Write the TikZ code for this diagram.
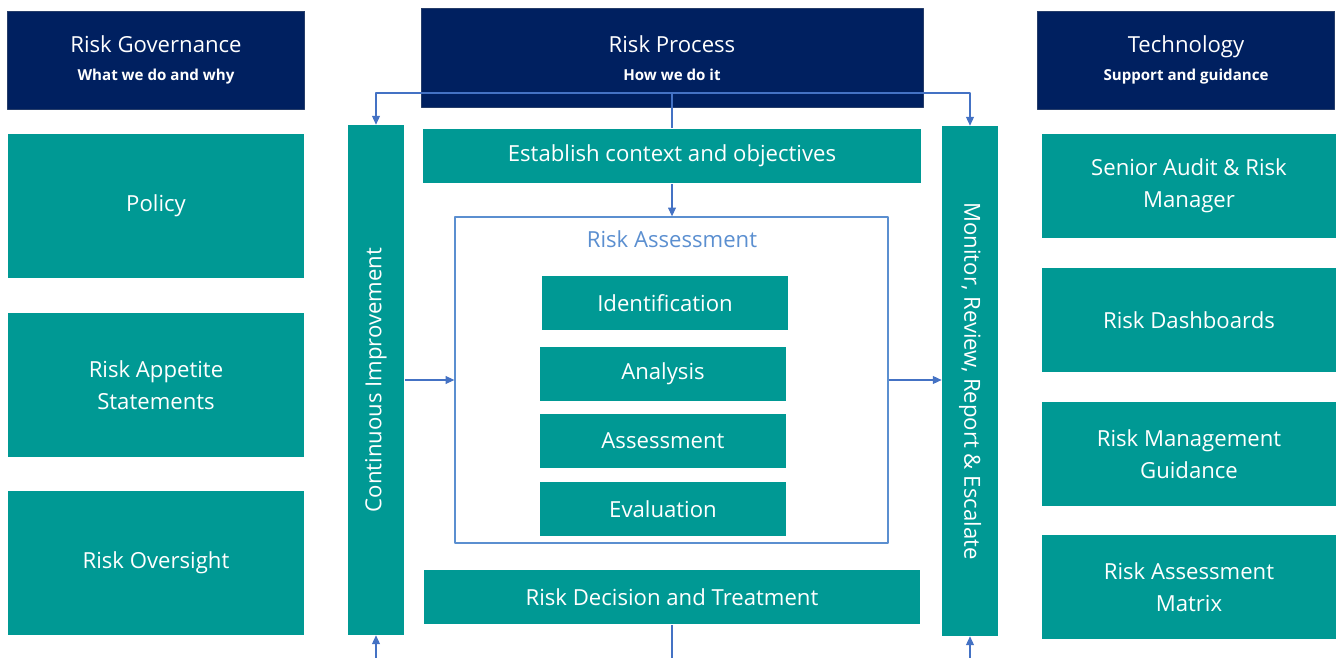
\documentclass[tikz,border=0pt]{standalone}
\usepackage{fontspec}
\setmainfont{Open Sans}
\usetikzlibrary{arrows.meta}
\definecolor{navy}{RGB}{0,32,96}
\definecolor{teal}{RGB}{0,153,148}
\definecolor{arrowblue}{RGB}{68,114,196}
\definecolor{framblue}{RGB}{91,143,208}
\newcommand{\subtxt}[1]{{\fontsize{8.6}{11}\selectfont\bfseries #1}}
\tikzset{
  head/.style={fill=navy, draw=navy!70!gray, text=white, align=center, inner sep=0pt,
    minimum width=5.95cm, minimum height=1.96cm, font=\fontsize{12.6}{15}\selectfont},
  box/.style={fill=teal, text=white, align=center, inner sep=0pt, font=\fontsize{12.6}{18}\selectfont},
  conn/.style={draw=arrowblue, line width=0.6pt},
  arr/.style={conn, -{Triangle[width=4.5pt,length=5pt]}}
}
\begin{document}
\begin{tikzpicture}[x=0.02cm, y=-0.02cm, line join=round]
\useasboundingbox (0,0) rectangle (1339,658);
% Tiêu đề ba cột
\node[head] (gov) at (156,60) {Risk Governance\\[1pt]\subtxt{What we do and why}};
\node[head, minimum width=10.04cm, minimum height=1.98cm] (proc) at (672,58) {Risk Process\\[1pt]\subtxt{How we do it}};
\node[head] (tech) at (1186,60) {Technology\\[1pt]\subtxt{Support and guidance}};

% Cột trái
\foreach \n/\y/\t in {policy/206/Policy, appetite/385/{Risk Appetite\\Statements},
    oversight/563/Risk Oversight}
  \node[box, minimum width=5.92cm, minimum height=2.88cm] (\n) at (156,\y) {\t};

% Cột phải
\foreach \n/\y/\t in {audit/186/{Senior Audit \& Risk\\Manager}, dash/320/Risk Dashboards,
    guide/454/{Risk Management\\Guidance}, matrix/587/{Risk Assessment\\Matrix}}
  \node[box, minimum width=5.9cm, minimum height=2.08cm] (\n) at (1189,\y) {\t};

% Hai cột dọc
\node[box, minimum width=10.2cm, minimum height=1.14cm, rotate=90] (ci) at (376,380) {Continuous Improvement};
\node[box, minimum width=10.2cm, minimum height=1.12cm, rotate=-90] (mon) at (970,381) {Monitor, Review, Report \& Escalate};

% Quy trình giữa
\node[box, minimum width=9.96cm, minimum height=1.1cm] (ctx) at (672,156) {Establish context and objectives};
\node[box, minimum width=9.94cm, minimum height=1.1cm] (dec) at (672,597) {Risk Decision and Treatment};
\node[draw=framblue, line width=0.8pt, minimum width=8.66cm, minimum height=6.52cm, inner sep=0pt] (ra) at (671.5,380) {};
\node[text=framblue, font=\fontsize{12.6}{15}\selectfont] (ralab) at (672,239) {Risk Assessment};
\foreach \n/\x/\y/\t in {ident/665/303/Identification, anal/663/374/Analysis,
    assess/663/441/Assessment, eval/663/509/Evaluation}
  \node[box, minimum width=4.92cm, minimum height=1.1cm] (\n) at (\x,\y) {\t};

% Mũi tên
\coordinate (j) at (672,93);
\draw[conn] (ctx.north) -- (j);
\draw[arr] (j) -| (ci.east);
\draw[arr] (j) -| (mon.west);
\draw[arr] (ctx) -- (ra.north -| ctx);
\draw[arr] (ci.south) -- (ci.south -| ra.west);
\draw[arr] (ra.east) -- (ra.east -| mon.south);
\coordinate (bl) at (376,658);
\coordinate (bm) at (672,658);
\coordinate (br) at (970,658);
\draw[arr] (bl) -- (ci.west);
\draw[arr] (br) -- (mon.east);
\draw[conn] (dec.south) -- (bm);
\end{tikzpicture}
\end{document}
